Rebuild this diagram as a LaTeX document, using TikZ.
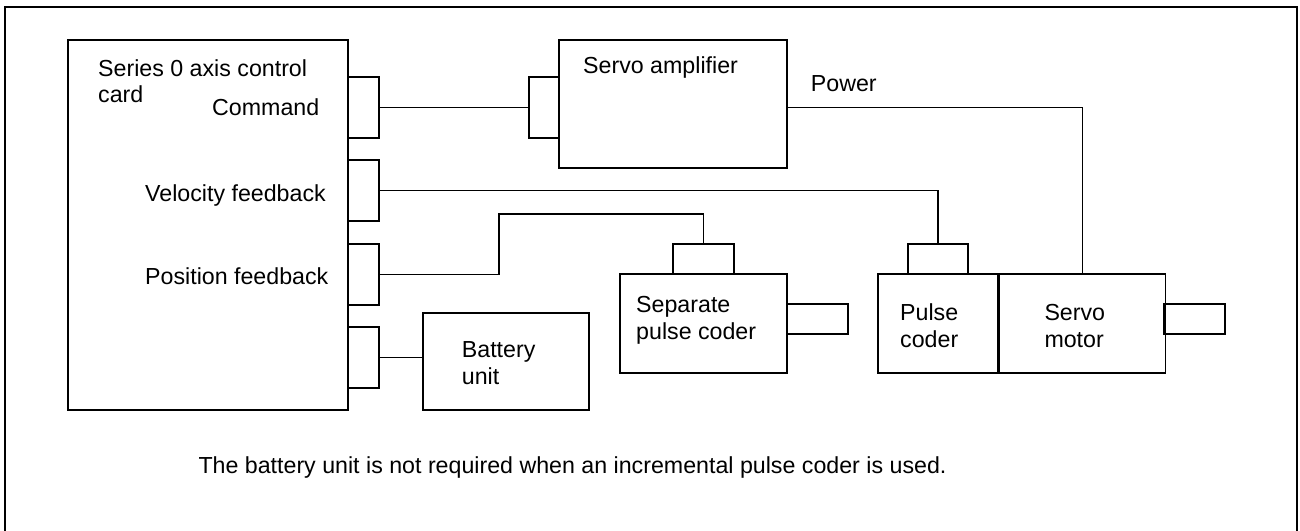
\documentclass[tikz,border=0pt]{standalone}
\usepackage{fontspec}
\setmainfont{Liberation Sans}
\usetikzlibrary{positioning,calc}

\begin{document}
\begin{tikzpicture}[
  x=1pt, y=-1pt,
  box/.style={draw, line width=1.6pt, inner sep=0pt, anchor=north west},
  lbl/.style={font=\fontsize{23.2}{26.5}\selectfont, inner sep=0pt,
    align=left, anchor=base west},
  wire/.style={line width=1.6pt}
]
  \useasboundingbox (0,0) rectangle (1300,530);
  \draw[wire] (5,532) -- (5,7) -- (1297,7) -- (1297,532);

  % control card and its plugs
  \node[box, minimum width=280pt, minimum height=370pt] (card) at (67,39) {};
  \node[box, minimum width=31pt, minimum height=61pt] (cmd) at (347,76) {};
  \node[box, minimum width=31pt, minimum height=61pt] (vel) at (347,159) {};
  \node[box, minimum width=31pt, minimum height=61pt] (pos) at (347,243) {};
  \node[box, minimum width=31pt, minimum height=61pt] (bat) at (347,326) {};
  \node[lbl] (cardtxt) at (98,102.7) {Series 0 axis control\\card};
  \node[lbl] (cmdtxt) at (212,115) {Command};
  \node[lbl] (veltxt) at (145,201) {Velocity feedback};
  \node[lbl] (postxt) at (145,284.3) {Position feedback};

  % amplifier
  \node[box, minimum width=30pt, minimum height=61pt] (ampin) at (528,76) {};
  \node[box, minimum width=228pt, minimum height=128pt] (amp) at (558,39) {};
  \node[lbl] (amptxt) at (583,73.3) {Servo amplifier};
  \node[lbl] (powtxt) at (810.7,91.7) {Power};

  % battery
  \node[box, minimum width=166pt, minimum height=97pt] (batt) at (422,312) {};
  \node[lbl] (batttxt) at (461.7,384.3) {Battery\\unit};

  % separate pulse coder
  \node[box, minimum width=61pt, minimum height=30pt] (spcin) at (672,243) {};
  \node[box, minimum width=167pt, minimum height=99pt] (spc) at (619,273) {};
  \node[box, minimum width=61pt, minimum height=30pt] (spcshaft) at (786,303) {};
  \node[lbl] (spctxt) at (636,339.3) {Separate\\pulse coder};

  % motor with built-in pulse coder
  \node[box, minimum width=60pt, minimum height=30pt] (pcin) at (907,243) {};
  \node[box, minimum width=120pt, minimum height=99pt] (pc) at (877,273) {};
  \node[box, anchor=west, minimum width=166pt, minimum height=99pt,
    right=0pt of pc] (motor) {};
  \node[box, minimum width=61pt, minimum height=30pt] (shaft) at (1163,303) {};
  \node[lbl] (pctxt) at (900,347.3) {Pulse\\coder};
  \node[lbl] (motortxt) at (1044.3,347.3) {Servo\\motor};

  % cables
  \coordinate (posbend) at (499,214);
  \draw[wire] (cmd.east) -- (ampin.west);
  \draw[wire] (vel.east) -| (pcin.north);
  \draw[wire] (pos.east) -| (posbend) -| (spcin.north);
  \draw[wire] (bat.east) -- (bat.east -| batt.west);
  \draw[wire] (amp.east |- ampin.west) -| (motor.north);

  \node[lbl] (note) at (198.3,473.3)
    {The battery unit is not required when an incremental pulse coder is used.};
\end{tikzpicture}
\end{document}
